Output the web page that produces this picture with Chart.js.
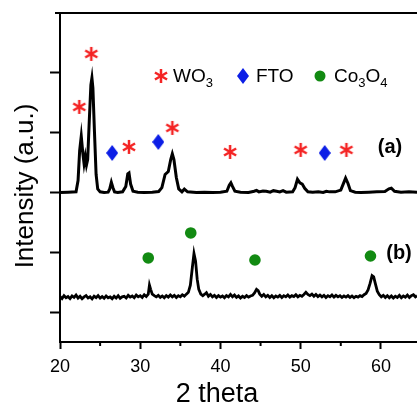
<!DOCTYPE html>
<html>
<head>
<meta charset="utf-8">
<script src="https://cdn.jsdelivr.net/npm/chart.js@4"></script>
<style>
  html, body { margin: 0; padding: 0; background: #fff; overflow: hidden; }
  canvas { display: block; }
</style>
</head>
<body>
<canvas id="xrd" width="417" height="405"></canvas>
<script>
// trace (a): WO3 film
var thetaA = [20.0, 21.0, 22.0, 22.25, 22.45, 22.65, 22.85, 23.0, 23.15, 23.3, 23.45, 23.65, 23.85, 23.98, 24.1, 24.3, 24.5, 24.7,
  25.0, 25.5, 26.0, 26.2, 26.4, 26.6, 26.8, 27.2, 27.8, 28.2, 28.45, 28.6, 28.8, 29.1, 29.7, 30.5, 31.5, 32.3, 32.7, 33.1,
  33.5, 33.8, 34.0, 34.2, 34.5, 34.8, 35.2, 35.5, 35.9, 37.0, 38.0, 39.0, 40.0, 40.8, 41.1, 41.3, 41.5, 41.8, 42.5, 43.5,
  44.2, 44.5, 44.8, 45.3, 45.7, 46.2, 46.6, 47.0, 47.4, 47.8, 48.2, 49.0, 49.3, 49.6, 49.9, 50.2, 50.5, 50.9, 51.5, 52.2,
  52.8, 53.2, 53.6, 54.3, 55.0, 55.3, 55.6, 55.9, 56.2, 56.8, 57.5, 58.5, 59.5, 60.5, 61.0, 61.3, 61.7, 62.5, 63.5, 64.5];
var intensityA = [2500, 2505, 2510, 2700, 3200, 3440, 3150, 2980, 3100, 2960, 3050, 3700, 4300, 4415, 4250, 3500, 2800, 2560,
  2510, 2500, 2505, 2560, 2670, 2580, 2510, 2500, 2510, 2600, 2810, 2825, 2640, 2520, 2505, 2500, 2505, 2515, 2580, 2800,
  2850, 3050, 3145, 3050, 2750, 2560, 2510, 2555, 2510, 2500, 2505, 2500, 2505, 2520, 2620, 2660, 2600, 2520, 2505, 2500,
  2520, 2535, 2510, 2525, 2520, 2505, 2530, 2520, 2510, 2530, 2505, 2510, 2580, 2720, 2660, 2640, 2570, 2510, 2505, 2510,
  2500, 2520, 2510, 2510, 2540, 2640, 2740, 2650, 2530, 2505, 2500, 2505, 2510, 2515, 2560, 2570, 2520, 2505, 2510, 2505];

// trace (b): Co3O4 loaded film
var thetaB = [20.0, 20.25, 20.5, 20.75, 21.0, 21.25, 21.5, 21.75, 22.0, 22.25, 22.5, 22.75, 23.0, 23.25, 23.5, 23.75, 24.0,
  24.25, 24.5, 24.75, 25.0, 25.25, 25.5, 25.75, 26.0, 26.25, 26.5, 26.75, 27.0, 27.25, 27.5, 27.75, 28.0, 28.25, 28.5,
  28.75, 29.0, 29.25, 29.5, 29.75, 30.0, 30.25, 30.5, 30.75, 31.0, 31.15, 31.3, 31.5, 31.75, 32.0, 32.25, 32.5, 32.75,
  33.0, 33.25, 33.5, 33.75, 34.0, 34.25, 34.5, 34.75, 35.0, 35.25, 35.5, 35.75, 36.0, 36.25, 36.5, 36.7, 36.9, 37.1, 37.3,
  37.55, 37.8, 38.0, 38.25, 38.5, 38.75, 39.0, 39.25, 39.5, 39.75, 40.0, 40.25, 40.5, 40.75, 41.0, 41.25, 41.5, 41.75,
  42.0, 42.25, 42.5, 42.75, 43.0, 43.25, 43.5, 43.75, 44.0, 44.25, 44.5, 44.7, 44.9, 45.15, 45.4, 45.65, 45.9, 46.15,
  46.4, 46.65, 46.9, 47.15, 47.4, 47.65, 47.9, 48.15, 48.4, 48.65, 48.9, 49.15, 49.4, 49.65, 49.9, 50.15, 50.4, 50.65,
  50.9, 51.15, 51.4, 51.65, 51.9, 52.15, 52.4, 52.65, 52.9, 53.15, 53.4, 53.65, 53.9, 54.15, 54.4, 54.65, 54.9, 55.15,
  55.4, 55.65, 55.9, 56.15, 56.4, 56.65, 56.9, 57.15, 57.4, 57.65, 57.9, 58.15, 58.4, 58.65, 58.9, 59.1, 59.3, 59.55,
  59.8, 60.05, 60.3, 60.55, 60.8, 61.05, 61.3, 61.55, 61.8, 62.05, 62.3, 62.55, 62.8, 63.05, 63.3, 63.55, 63.8, 64.05,
  64.3, 64.5];
var intensityB = [760, 725, 775, 740, 760, 725, 770, 745, 785, 735, 765, 725, 755, 775, 735, 755, 720, 765, 740, 775,
  735, 760, 730, 770, 740, 755, 725, 765, 735, 775, 730, 755, 765, 735, 780, 750, 770, 740, 785, 755, 775, 745, 790,
  760, 800, 950, 880, 800, 775, 755, 780, 745, 770, 740, 775, 750, 785, 755, 780, 745, 775, 755, 790, 765, 800, 830,
  950, 1250, 1480, 1350, 1050, 880, 800, 775, 795, 825, 765, 795, 755, 780, 745, 775, 750, 770, 740, 775, 755, 795,
  755, 785, 745, 770, 735, 765, 745, 775, 750, 770, 780, 820, 880, 860, 800, 765, 795, 755, 780, 745, 775, 740, 770,
  750, 780, 745, 775, 755, 785, 750, 775, 760, 790, 755, 780, 765, 795, 830, 795, 775, 800, 765, 795, 760, 785, 755,
  780, 745, 775, 755, 785, 750, 780, 755, 775, 745, 770, 750, 775, 745, 770, 740, 765, 750, 775, 760, 790, 810, 870,
  980, 1110, 1090, 980, 850, 790, 755, 780, 745, 775, 740, 770, 735, 765, 745, 780, 740, 770, 750, 785, 745, 775,
  790, 755, 775];

// phase markers
var wo3Theta = [22.4, 23.9, 28.6, 34.0, 41.2, 50.0, 55.7];
var wo3Y = [3930, 4816, 3261, 3579, 3177, 3211, 3211];
var ftoTheta = [26.5, 32.25, 53.0];
var ftoY = [3160, 3344, 3160];
var co3o4Theta = [31.0, 36.3, 44.3, 58.7];
var co3o4Y = [1405, 1823, 1371, 1438];

var xTicks = [20, 30, 40, 50, 60];
var xMinorTicks = [25, 35, 45, 55];
var yTicks = [500, 1500, 2500, 3500, 4500];

var RED = '#f42424', BLUE = '#0c1ee6', GREEN = '#128a12';
var FONT = '"Liberation Sans", Arial, sans-serif';

function pairs(xs, ys) {
  return xs.map(function(x, i) { return {x: x, y: ys[i]}; });
}

function makeAsterisk() {
  var c = document.createElement('canvas');
  c.width = 16; c.height = 16;
  var g = c.getContext('2d');
  g.strokeStyle = RED; g.lineWidth = 2.5; g.lineCap = 'butt';
  [90, 30, 150].forEach(function(a) {
    var r = a * Math.PI / 180, dx = Math.cos(r) * 7, dy = Math.sin(r) * 7;
    g.beginPath(); g.moveTo(8 - dx, 8 - dy); g.lineTo(8 + dx, 8 + dy); g.stroke();
  });
  return c;
}
function makeDiamond() {
  var c = document.createElement('canvas');
  c.width = 12; c.height = 16;
  var g = c.getContext('2d');
  g.fillStyle = BLUE;
  g.beginPath(); g.moveTo(6, 0); g.lineTo(12, 8); g.lineTo(6, 16); g.lineTo(0, 8); g.closePath(); g.fill();
  return c;
}
var asterisk = makeAsterisk();
var diamond = makeDiamond();

function drawSub(ctx, parts, x, y) {
  // parts: [text, isSub]
  parts.forEach(function(p) {
    ctx.font = (p[1] ? '13px ' : '19px ') + FONT;
    ctx.fillText(p[0], x, p[1] ? y + 5 : y);
    x += ctx.measureText(p[0]).width;
  });
}

var decorations = {
  id: 'decorations',
  afterDraw: function(chart) {
    var ctx = chart.ctx, area = chart.chartArea, xs = chart.scales.x;
    ctx.save();
    ctx.strokeStyle = '#000'; ctx.lineWidth = 2;
    // top frame line
    ctx.beginPath(); ctx.moveTo(55, area.top); ctx.lineTo(area.right, area.top); ctx.stroke();
    // minor x ticks
    xMinorTicks.forEach(function(v) {
      var px = xs.getPixelForValue(v);
      ctx.beginPath(); ctx.moveTo(px, area.bottom); ctx.lineTo(px, area.bottom + 4); ctx.stroke();
    });
    ctx.fillStyle = '#000';
    // axis titles
    ctx.font = '27px ' + FONT;
    ctx.textAlign = 'center'; ctx.textBaseline = 'alphabetic';
    ctx.fillText('2 theta', 217, 402);
    ctx.font = '26px ' + FONT;
    ctx.save();
    ctx.translate(33, 186); ctx.rotate(-Math.PI / 2);
    ctx.fillText('Intensity (a.u.)', 0, 0);
    ctx.restore();
    // legend
    ctx.drawImage(asterisk, 161 - 8, 76 - 8);
    ctx.drawImage(diamond, 243 - 6, 76 - 8);
    ctx.fillStyle = GREEN;
    ctx.beginPath(); ctx.arc(320, 76, 5.5, 0, Math.PI * 2); ctx.fill();
    ctx.fillStyle = '#000'; ctx.textAlign = 'left';
    drawSub(ctx, [['WO', 0], ['3', 1]], 173, 82);
    drawSub(ctx, [['FTO', 0]], 256, 82);
    drawSub(ctx, [['Co', 0], ['3', 1], ['O', 0], ['4', 1]], 334, 82);
    // trace labels
    ctx.font = 'bold 20px ' + FONT;
    ctx.textAlign = 'center'; ctx.textBaseline = 'middle';
    ctx.fillText('(a)', 390, 147);
    ctx.fillText('(b)', 399, 253);
    ctx.restore();
  }
};

new Chart(document.getElementById('xrd'), {
  type: 'scatter',
  data: {
    datasets: [
      {data: pairs(wo3Theta, wo3Y), pointStyle: asterisk, pointRadius: 8, showLine: false},
      {data: pairs(ftoTheta, ftoY), pointStyle: diamond, pointRadius: 8, showLine: false},
      {data: pairs(co3o4Theta, co3o4Y), pointStyle: 'circle', pointRadius: 5.8, backgroundColor: GREEN, borderWidth: 0, showLine: false},
      {data: pairs(thetaA, intensityA), showLine: true, borderColor: '#000', borderWidth: 3, pointRadius: 0, tension: 0},
      {data: pairs(thetaB, intensityB), showLine: true, borderColor: '#000', borderWidth: 2.8, pointRadius: 0, tension: 0}
    ]
  },
  options: {
    responsive: false,
    animation: false,
    devicePixelRatio: 1,
    layout: {autoPadding: false, padding: {top: 13, right: 0, left: 0, bottom: 0}},
    plugins: {legend: {display: false}, tooltip: {enabled: false}},
    scales: {
      x: {
        type: 'linear', min: 20, max: 64.5,
        afterBuildTicks: function(s) { s.ticks = xTicks.map(function(v) { return {value: v}; }); },
        afterFit: function(s) { s.height = 63; s.paddingLeft = 0; s.paddingRight = 0; },
        grid: {drawOnChartArea: false, tickLength: 7, tickWidth: 2, tickColor: '#000'},
        border: {display: true, width: 2, color: '#000'},
        ticks: {color: '#000', padding: 7, font: {family: FONT, size: 18}, maxRotation: 0}
      },
      y: {
        type: 'linear', min: 0, max: 5500,
        afterBuildTicks: function(s) { s.ticks = yTicks.map(function(v) { return {value: v}; }); },
        afterFit: function(s) { s.width = 60; },
        grid: {drawOnChartArea: false, tickLength: 10, tickWidth: 2, tickColor: '#000'},
        border: {display: true, width: 2, color: '#000'},
        ticks: {display: false}
      }
    }
  },
  plugins: [decorations]
});
</script>
</body>
</html>
